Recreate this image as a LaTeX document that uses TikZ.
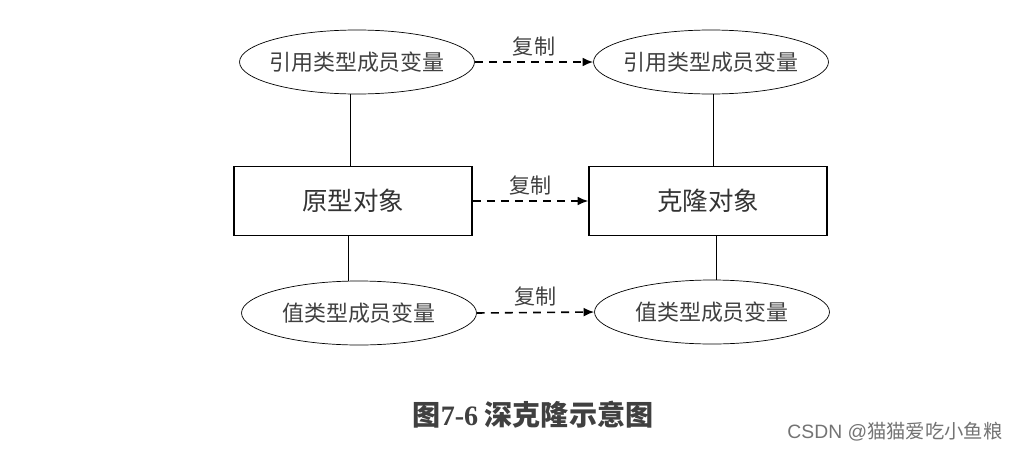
\documentclass[tikz,border=0pt]{standalone}
\usepackage{fontspec}
\newfontfamily\cjk{Noto Sans CJK SC}
\setmainfont{Liberation Serif}
\usetikzlibrary{arrows.meta,shapes.geometric}
\begin{document}
\begin{tikzpicture}
            [
                x=0.02cm, y=-0.02cm,
                member/.style={ellipse, draw=black, thin, minimum width=4.7cm, minimum height=1.28cm, inner xsep=-3pt, inner ysep=0pt, text=black!75, font=\cjk\fontsize{12.5}{14}\selectfont},
                objbox/.style={rectangle, draw=black, line width=0.9pt, minimum width=4.76cm, minimum height=1.38cm, text=black!80, font=\cjk\fontsize{14.5}{16}\selectfont},
                copyarrow/.style={dash pattern=on 4.5pt off 3.5pt, line width=0.9pt, -{Latex[length=6pt,width=5pt]}},
                copylabel/.style={above, inner sep=3pt, text=black!75, font=\cjk\fontsize{12}{14}\selectfont}
            ]
            \useasboundingbox (0,0) rectangle (1018,450);
            % reference members
            \node[member] (refL) at (357,62) {引用类型成员变量};
            \node[member] (refR) at (711,62) {引用类型成员变量};
            % objects
            \node[objbox] (proto) at (353,201) {原型对象};
            \node[objbox] (clone) at (708,201) {克隆对象};
            % value members
            \node[member] (valL) at (359,313) {值类型成员变量};
            \node[member] (valR) at (712,312) {值类型成员变量};
            % links
            \draw[thin] (proto.north -| 350,0) -- (refL.south -| 350,0);
            \draw[thin] (clone.north -| 713,0) -- (refR.south -| 713,0);
            \draw[thin] (proto.south -| 348,0) -- (valL.north -| 348,0);
            \draw[thin] (clone.south -| 716,0) -- (valR.north -| 716,0);
            % copies
            \draw[copyarrow] (refL.east) -- node[copylabel] {复制} (refR.west);
            \draw[copyarrow] (proto.east) -- node[copylabel] {复制} (clone.west);
            \draw[copyarrow] (valL.east) -- node[copylabel] {复制} (valR.west);
            % caption
            \node[text=black!75, font=\cjk\bfseries\fontsize{16}{18}\selectfont] (caption) at (533,415) {图{\rmfamily\bfseries 7-6} 深克隆示意图};
            \node[text=black!55, font=\cjk\fontsize{11}{13}\selectfont] (mark) at (895,432) {\fontspec{Liberation Sans}CSDN @\cjk 猫猫爱吃小鱼粮};
\end{tikzpicture}
\end{document}
